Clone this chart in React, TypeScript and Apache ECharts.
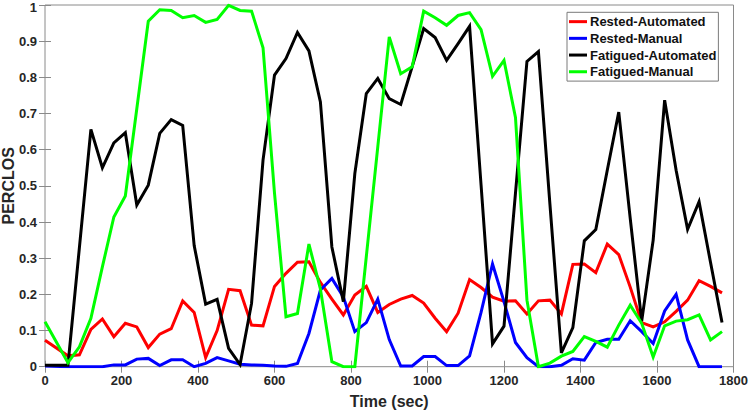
import React, { useEffect, useRef } from "react";
import * as echarts from "echarts";

const times = [0, 60, 90, 120, 150, 180, 210, 240, 270, 300, 330, 360, 390, 420, 450, 480, 510, 540, 570, 600, 630, 660, 690, 720, 750, 780, 810, 840, 870, 900, 930, 960, 990, 1020, 1050, 1080, 1110, 1140, 1170, 1200, 1230, 1260, 1290, 1320, 1350, 1380, 1410, 1440, 1470, 1500, 1530, 1560, 1590, 1620, 1650, 1680, 1710, 1740, 1770];

const restedAutomated = [0.073, 0.03, 0.033, 0.103, 0.132, 0.083, 0.12, 0.11, 0.053, 0.09, 0.105, 0.182, 0.15, 0.025, 0.1, 0.214, 0.21, 0.115, 0.113, 0.222, 0.258, 0.289, 0.29, 0.233, 0.187, 0.143, 0.198, 0.222, 0.15, 0.172, 0.187, 0.197, 0.176, 0.134, 0.097, 0.148, 0.241, 0.219, 0.192, 0.181, 0.182, 0.146, 0.182, 0.184, 0.146, 0.283, 0.284, 0.26, 0.339, 0.31, 0.22, 0.122, 0.11, 0.124, 0.153, 0.184, 0.238, 0.222, 0.204];

const restedManual = [0.002, 0.0, 0.0, 0.0, 0.0, 0.005, 0.005, 0.021, 0.023, 0.003, 0.019, 0.019, 0.0, 0.009, 0.025, 0.016, 0.007, 0.005, 0.004, 0.002, 0.001, 0.009, 0.092, 0.212, 0.244, 0.193, 0.097, 0.122, 0.187, 0.075, 0.002, 0.002, 0.028, 0.028, 0.003, 0.003, 0.03, 0.15, 0.284, 0.18, 0.067, 0.025, 0.0, 0.0, 0.004, 0.022, 0.018, 0.067, 0.076, 0.076, 0.127, 0.097, 0.064, 0.154, 0.2, 0.074, 0.0, 0.0, 0.0];

const fatiguedAutomated = [0.004, 0.004, 0.33, 0.656, 0.55, 0.619, 0.647, 0.447, 0.502, 0.645, 0.683, 0.667, 0.335, 0.173, 0.186, 0.051, 0.006, 0.175, 0.571, 0.806, 0.852, 0.924, 0.873, 0.732, 0.331, 0.18, 0.534, 0.755, 0.797, 0.741, 0.725, 0.83, 0.935, 0.91, 0.847, 0.893, 0.941, 0.503, 0.063, 0.112, 0.48, 0.844, 0.871, 0.45, 0.038, 0.108, 0.348, 0.379, 0.543, 0.704, 0.41, 0.126, 0.35, 0.737, 0.543, 0.38, 0.456, 0.288, 0.122];

const fatiguedManual = [0.124, 0.011, 0.055, 0.134, 0.276, 0.414, 0.472, 0.713, 0.955, 0.987, 0.985, 0.965, 0.971, 0.952, 0.96, 0.999, 0.985, 0.983, 0.882, 0.48, 0.138, 0.147, 0.339, 0.215, 0.014, 0.0, 0.0, 0.304, 0.608, 0.912, 0.81, 0.829, 0.983, 0.965, 0.944, 0.971, 0.979, 0.932, 0.803, 0.847, 0.689, 0.184, 0.0, 0.01, 0.029, 0.042, 0.083, 0.07, 0.054, 0.115, 0.17, 0.12, 0.027, 0.113, 0.126, 0.13, 0.143, 0.074, 0.097];

const seriesNames = ["Rested-Automated", "Rested-Manual", "Fatigued-Automated", "Fatigued-Manual"];
const seriesColors = ["#ff0000", "#0000ff", "#000000", "#00ff00"];
const seriesValues = [restedAutomated, restedManual, fatiguedAutomated, fatiguedManual];

const FONT = "'Liberation Sans', Arial, Helvetica, sans-serif";
const AXIS_GRAY = "#8a8a8a";
const LABEL_COLOR = "#262626";

export default function App() {
  const ref = useRef<HTMLDivElement>(null);

  useEffect(() => {
    if (!ref.current) return;
    const chart = echarts.init(ref.current, undefined, { renderer: "svg" });
    const labelStyle = {
      color: LABEL_COLOR,
      fontFamily: FONT,
      fontWeight: "bold" as const,
      fontSize: 13,
    };
    chart.setOption({
      animation: false,
      backgroundColor: "#ffffff",
      grid: {
        left: 45,
        right: 15.5,
        top: 5,
        bottom: 45.3,
        containLabel: false,
        outerBoundsMode: "none",
        show: true,
        borderColor: AXIS_GRAY,
        borderWidth: 1,
        backgroundColor: "transparent",
      },
      legend: {
        data: seriesNames,
        orient: "vertical",
        left: 567,
        top: 12.3,
        padding: [1, 2, 1, 2],
        itemGap: 0,
        itemWidth: 18,
        itemHeight: 3,
        icon: "rect",
        backgroundColor: "#ffffff",
        borderColor: "#7a7a7a",
        borderWidth: 1,
        borderRadius: 0,
        textStyle: {
          color: "#111111",
          fontFamily: FONT,
          fontWeight: "bold",
          fontSize: 13,
          lineHeight: 16.7,
          padding: [0, 0, 0, -2],
        },
      },
      xAxis: [
        {
          type: "value",
          min: 0,
          max: 1800,
          interval: 200,
          position: "bottom",
          name: "Time (sec)",
          nameLocation: "middle",
          nameGap: 27,
          nameMoveOverlap: false,
          nameTextStyle: { ...labelStyle, fontSize: 16 },
          axisLine: { show: false },
          axisTick: { show: true, inside: true, length: 6, lineStyle: { color: AXIS_GRAY } },
          axisLabel: { ...labelStyle, margin: 7, formatter: (v: number) => String(v) },
          splitLine: { show: false },
        },
        {
          type: "value",
          min: 0,
          max: 1800,
          interval: 200,
          position: "top",
          axisLine: { show: false },
          axisTick: { show: true, inside: true, length: 6, lineStyle: { color: AXIS_GRAY } },
          axisLabel: { show: false },
          splitLine: { show: false },
        },
      ],
      yAxis: [
        {
          type: "value",
          min: 0,
          max: 1,
          interval: 0.1,
          position: "left",
          name: "PERCLOS",
          nameLocation: "middle",
          nameGap: 29,
          nameMoveOverlap: false,
          nameTextStyle: { ...labelStyle, fontSize: 16 },
          axisLine: { show: false },
          axisTick: { show: true, inside: true, length: 6, lineStyle: { color: AXIS_GRAY } },
          axisLabel: {
            ...labelStyle,
            margin: 8,
            lineHeight: 10,
            formatter: (v: number) => {
              const s = String(Math.round(v * 10) / 10);
              return v >= 1 ? "{top|" + s + "}" : s;
            },
            rich: {
              top: {
                ...labelStyle,
                lineHeight: 5,
                padding: [4, 0, 0, 0],
              },
            },
          },
          splitLine: { show: false },
        },
        {
          type: "value",
          min: 0,
          max: 1,
          interval: 0.1,
          position: "right",
          axisLine: { show: false },
          axisTick: { show: true, inside: true, length: 6, lineStyle: { color: AXIS_GRAY } },
          axisLabel: { show: false },
          splitLine: { show: false },
        },
      ],
      series: seriesNames.map((name, i) => ({
        name,
        type: "line",
        xAxisIndex: 0,
        yAxisIndex: 0,
        showSymbol: false,
        symbol: "none",
        smooth: false,
        color: seriesColors[i],
        lineStyle: { color: seriesColors[i], width: 3, join: "miter" },
        data: times.map((t, k) => [t, seriesValues[i][k]]),
      })),
    });
    return () => chart.dispose();
  }, []);

  return (
    <div
      ref={ref}
      style={{ position: "fixed", left: 0, top: 0, width: 749, height: 412, background: "#fff" }}
    />
  );
}
